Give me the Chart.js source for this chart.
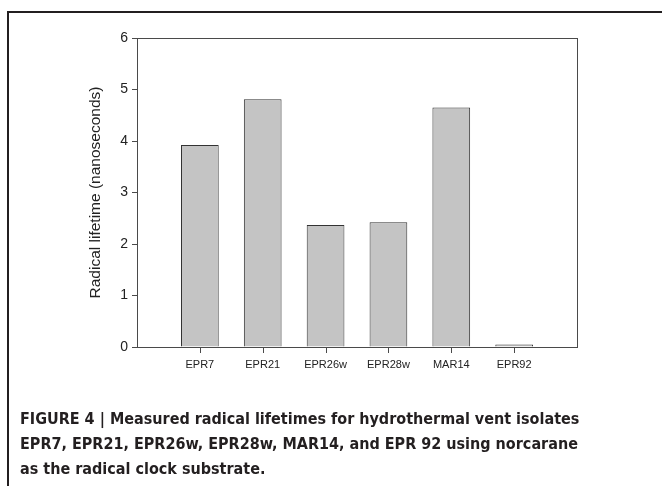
<!DOCTYPE html>
<html>
<head>
<meta charset="utf-8">
<script src="https://cdn.jsdelivr.net/npm/chart.js@4"></script>
<style>
  html, body { margin: 0; padding: 0; background: #fff; }
  body { width: 662px; height: 486px; position: relative; overflow: hidden; }
  #frame {
    position: absolute; left: 7px; top: 11px; width: 700px; height: 500px;
    border-top: 2px solid #231f20; border-left: 2px solid #231f20;
  }
  #chart { position: absolute; left: 0; top: 0; }
  #caption {
    position: absolute; left: 20px; top: 406px; width: 630px;
    font-family: "Liberation Sans Narrow", "Arial Narrow", "DejaVu Sans Condensed", sans-serif;
    font-weight: bold; font-size: 16px; line-height: 25px; color: #231f20;
  }
</style>
</head>
<body>
<div id="frame"></div>
<canvas id="chart" width="662" height="486"></canvas>
<div id="caption">FIGURE 4 | Measured radical lifetimes for hydrothermal vent isolates<br>EPR7, EPR21, EPR26w, EPR28w, MAR14, and EPR 92 using norcarane<br>as the radical clock substrate.</div>
<script>
const categories = ['EPR7', 'EPR21', 'EPR26w', 'EPR28w', 'MAR14', 'EPR92'];
const lifetimes = [3.92, 4.81, 2.37, 2.42, 4.65, 0.05];
const yTicks = [0, 1, 2, 3, 4, 5, 6];

const axisColor = '#4a4a4a';
const fontFamily = "'Liberation Sans', Arial, sans-serif";

// categories sit at 1..n on a 0..n+1 axis, leaving half-empty margins like the original
const points = lifetimes.map((v, i) => ({ x: i + 1, y: v }));

// full box round the plot area, plus an x tick mark under the centre of each bar
const frameBox = {
    id: 'frameBox',
    afterDraw(chart) {
        const a = chart.chartArea;
        const ctx = chart.ctx;
        ctx.save();
        ctx.strokeStyle = axisColor;
        ctx.lineWidth = 1;
        ctx.strokeRect(Math.round(a.left) + 0.5, Math.round(a.top) + 0.5,
            Math.round(a.right - a.left), Math.round(a.bottom - a.top));
        ctx.fillStyle = axisColor;
        chart.getDatasetMeta(0).data.forEach((bar) => {
            ctx.fillRect(Math.round(bar.x), Math.round(a.bottom), 1, 6);
        });
        ctx.restore();
    }
};

const ctx = document.getElementById('chart').getContext('2d');
new Chart(ctx, {
    type: 'bar',
    data: {
        datasets: [{
            data: points,
            backgroundColor: '#c4c4c4',
            borderColor: '#333333',
            borderWidth: 1,
            categoryPercentage: 0.6,
            barPercentage: 1
        }]
    },
    options: {
        responsive: false,
        animation: false,
        devicePixelRatio: 1,
        layout: { padding: { left: 86, right: 85, top: 38, bottom: 0 } },
        plugins: { legend: { display: false }, tooltip: { enabled: false } },
        scales: {
            x: {
                type: 'linear',
                min: 0,
                max: categories.length + 1,
                offset: false,
                afterBuildTicks: (s) => { s.ticks = categories.map((c, i) => ({ value: i + 1 })); },
                grid: { offset: false, drawOnChartArea: false, drawTicks: false },
                border: { color: axisColor },
                ticks: {
                    autoSkip: false,
                    maxRotation: 0,
                    padding: 11,
                    color: '#222',
                    font: { family: fontFamily, size: 11 },
                    callback: (v) => categories[v - 1]
                },
                afterFit: (s) => { s.height = 139; }
            },
            y: {
                min: 0,
                max: 6,
                afterBuildTicks: (s) => { s.ticks = yTicks.map(v => ({ value: v })); },
                grid: { drawOnChartArea: false, drawTicks: true, tickLength: 5, tickColor: axisColor },
                border: { color: axisColor },
                ticks: {
                    padding: 4,
                    color: '#222',
                    font: { family: fontFamily, size: 14 }
                },
                title: {
                    display: true,
                    text: 'Radical lifetime (nanoseconds)',
                    color: '#222',
                    padding: { top: 0, bottom: 4 },
                    font: { family: fontFamily, size: 15.5 }
                },
                afterFit: (s) => { s.width = 51; }
            }
        }
    },
    plugins: [frameBox]
});
</script>
</body>
</html>
